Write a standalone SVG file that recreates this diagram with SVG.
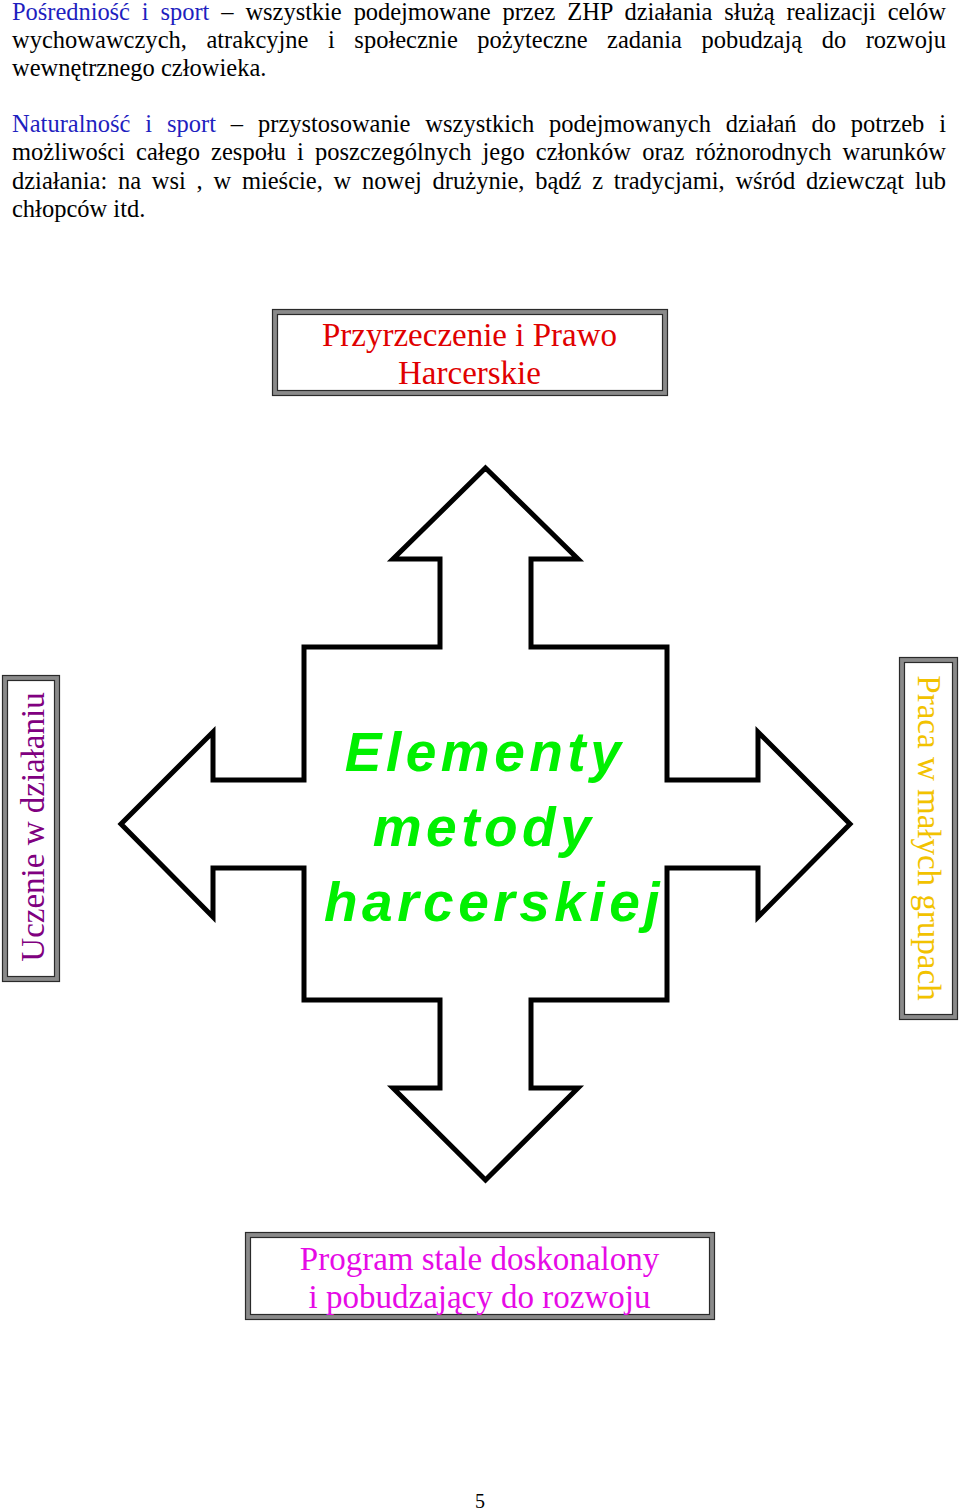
<svg xmlns="http://www.w3.org/2000/svg" width="960" height="1512" viewBox="0 0 960 1512">
  <style>
    .para { font-family: "Liberation Serif", "Times New Roman", serif; font-size: 24.5px; fill: #000; }
    .blue { fill: #1f1fbf; }
    .frame-outer { fill: #8a8a8a; stroke: #2a2a2a; stroke-width: 1.2; }
    .frame-inner { fill: #ffffff; stroke: #2a2a2a; stroke-width: 1.2; }
    .label { font-family: "Liberation Serif", "Times New Roman", serif; font-size: 33px; text-anchor: middle; }
    .center { font-family: "Liberation Sans", Arial, sans-serif; font-weight: bold; font-style: italic; font-size: 55px; letter-spacing: 4.5px; fill: #00f000; text-anchor: middle; }
    .arrow { fill: #ffffff; stroke: #000000; stroke-width: 5; stroke-linejoin: miter; }
  </style>
  <rect width="960" height="1512" fill="#ffffff"/>

  <g id="intro-text">
    <text class="para" x="12" y="20" word-spacing="5.87" textLength="934" lengthAdjust="spacing"><tspan class="blue">Pośredniość i sport</tspan> – wszystkie podejmowane przez ZHP działania służą realizacji celów</text>
    <text class="para" x="12" y="47.5" word-spacing="13.4" textLength="934" lengthAdjust="spacing">wychowawczych, atrakcyjne i społecznie pożyteczne zadania pobudzają do rozwoju</text>
    <text class="para" x="12" y="75.5">wewnętrznego człowieka.</text>
    <text class="para" x="12" y="132" word-spacing="8.75" textLength="934" lengthAdjust="spacing"><tspan class="blue">Naturalność i sport</tspan> – przystosowanie wszystkich podejmowanych działań do potrzeb i</text>
    <text class="para" x="12" y="160.3" word-spacing="4.97" textLength="934" lengthAdjust="spacing">możliwości całego zespołu i poszczególnych jego członków oraz różnorodnych warunków</text>
    <text class="para" x="12" y="188.6" word-spacing="4.6" textLength="934" lengthAdjust="spacing">działania: na wsi , w mieście, w nowej drużynie, bądź z tradycjami, wśród dziewcząt lub</text>
    <text class="para" x="12" y="216.9">chłopców itd.</text>
  </g>

  <g id="connectors">
    <polygon class="arrow" points="485.5,468 578,559 531,559 531,647 667,647 667,780 758,780 758,732 850,824 758,917 758,868 667,868 667,1000 531,1000 531,1088 578,1088 485.5,1180 393,1088 440,1088 440,1000 304,1000 304,868 213,868 213,917 121,824 213,732 213,780 304,780 304,647 440,647 440,559 393,559"/>
  </g>

  <g id="node-center">
    <text class="center" x="485" y="771">Elementy</text>
    <text class="center" x="484" y="846">metody</text>
    <text class="center" x="494" y="921">harcerskiej</text>
  </g>

  <g id="node-top">
    <rect class="frame-outer" x="272.5" y="309.5" width="395" height="86"/>
    <rect class="frame-inner" x="277.5" y="314.5" width="385" height="76"/>
    <text class="label" x="469.5" y="346" fill="#e00000">Przyrzeczenie i Prawo</text>
    <text class="label" x="469.5" y="384" fill="#e00000">Harcerskie</text>
  </g>

  <g id="node-bottom">
    <rect class="frame-outer" x="245.5" y="1232.5" width="469" height="87"/>
    <rect class="frame-inner" x="250.5" y="1237.5" width="459" height="77"/>
    <text class="label" x="479.5" y="1270" fill="#e60ae6">Program stale doskonalony</text>
    <text class="label" x="479.5" y="1308" fill="#e60ae6">i pobudzający do rozwoju</text>
  </g>

  <g id="node-left">
    <rect class="frame-outer" x="2.5" y="675.5" width="57" height="306"/>
    <rect class="frame-inner" x="7.5" y="680.5" width="47" height="296"/>
    <text class="label" transform="translate(44,827) rotate(-90)" x="0" y="0" fill="#800080">Uczenie w działaniu</text>
  </g>

  <g id="node-right">
    <rect class="frame-outer" x="899.5" y="657.5" width="58" height="362"/>
    <rect class="frame-inner" x="904.5" y="662.5" width="48" height="352"/>
    <text class="label" transform="translate(918,838) rotate(90)" x="0" y="0" fill="#f2c200">Praca w małych grupach</text>
  </g>

  <text x="480" y="1508" font-family="Liberation Serif, Times New Roman, serif" font-size="20" text-anchor="middle" fill="#000">5</text>
</svg>
